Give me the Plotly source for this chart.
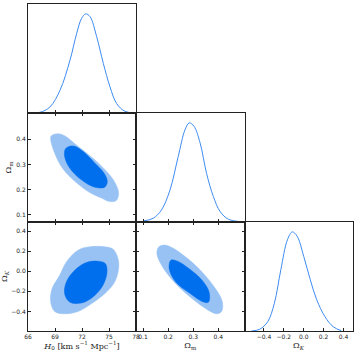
import plotly.graph_objects as go

# 1D marginal curves (peak normalised to 1)
h0_grid = [66.04, 67.33, 68.44, 69.56, 70.67, 71.41, 71.96, 72.41, 72.89, 73.63, 74.37, 75.11, 75.85, 76.78, 77.89]
h0_dens = [0, 0.007, 0.061, 0.230, 0.534, 0.804, 0.956, 1.0, 0.973, 0.770, 0.500, 0.264, 0.095, 0.017, 0]

om_grid = [0.10, 0.14, 0.173, 0.207, 0.24, 0.267, 0.284, 0.303, 0.327, 0.353, 0.38, 0.407, 0.44, 0.487]
om_dens = [0.01, 0.037, 0.12, 0.32, 0.66, 0.93, 1.0, 0.966, 0.80, 0.49, 0.257, 0.105, 0.027, 0.003]

ok_grid = [-0.525, -0.443, -0.361, -0.295, -0.23, -0.164, -0.115, -0.066, 0.0, 0.066, 0.131, 0.213, 0.295, 0.377]
ok_dens = [0, 0.017, 0.095, 0.28, 0.618, 0.92, 1.0, 0.956, 0.753, 0.517, 0.314, 0.145, 0.044, 0.003]

# 2D contours (95% outer, 68% inner)
h0_om_outer_x = [68.59, 69.33, 70.07, 71.56, 73.41, 74.89, 75.70, 76.07, 75.81, 75.07, 74.15, 72.67, 70.81, 69.70, 68.96, 68.52]
h0_om_outer_y = [0.414, 0.422, 0.414, 0.372, 0.319, 0.266, 0.226, 0.187, 0.157, 0.153, 0.167, 0.193, 0.246, 0.292, 0.345, 0.398]
h0_om_inner_x = [70.63, 70.15, 70.07, 70.63, 71.93, 73.41, 74.52, 74.81, 74.44, 73.41, 72.11, 71.19]
h0_om_inner_y = [0.372, 0.361, 0.332, 0.286, 0.239, 0.210, 0.210, 0.233, 0.266, 0.306, 0.352, 0.372]

h0_ok_outer_x = [71.56, 72.85, 74.52, 75.44, 76.0, 76.07, 75.63, 74.52, 73.04, 71.56, 70.07, 68.96, 68.52, 68.67, 69.52, 70.26]
h0_ok_outer_y = [0.210, 0.243, 0.243, 0.220, 0.126, 0.026, -0.107, -0.224, -0.324, -0.400, -0.424, -0.400, -0.307, -0.174, -0.040, 0.093]
h0_ok_inner_x = [73.78, 74.59, 74.78, 74.33, 73.22, 71.93, 70.63, 70.07, 70.26, 71.19, 72.48]
h0_ok_inner_y = [0.100, 0.076, -0.007, -0.140, -0.257, -0.317, -0.307, -0.224, -0.107, 0.010, 0.086]

om_ok_outer_x = [0.163, 0.185, 0.217, 0.269, 0.335, 0.393, 0.416, 0.413, 0.393, 0.361, 0.296, 0.230, 0.178, 0.155]
om_ok_outer_y = [0.243, 0.260, 0.233, 0.143, -0.007, -0.190, -0.307, -0.400, -0.424, -0.390, -0.274, -0.124, 0.043, 0.176]
om_ok_inner_x = [0.211, 0.237, 0.283, 0.335, 0.363, 0.361, 0.341, 0.289, 0.230, 0.204]
om_ok_inner_y = [0.110, 0.100, 0.026, -0.090, -0.207, -0.307, -0.307, -0.224, -0.107, 0.026]

h0_ticks = [66, 69, 72, 75, 78]
om_ticks = [0.1, 0.2, 0.3, 0.4]
ok_ticks = [-0.4, -0.2, 0.0, 0.2, 0.4]

h0_range = [66, 78]
om_range = [0.072, 0.504]
ok_range = [-0.595, 0.49]

LINE_COL = "#3d8bf0"
DARK = "#006fed"
LIGHT = "#99c2f4"

fig = go.Figure()


def closed(xs, ys):
    return list(xs) + [xs[0]], list(ys) + [ys[0]]


def add_contours(ox, oy, ix, iy, xa, ya):
    x, y = closed(ox, oy)
    fig.add_trace(go.Scatter(x=x, y=y, mode="lines", fill="toself", fillcolor=LIGHT,
                             line=dict(color=LIGHT, width=0.5, shape="spline", smoothing=1.0),
                             xaxis=xa, yaxis=ya, hoverinfo="skip"))
    x, y = closed(ix, iy)
    fig.add_trace(go.Scatter(x=x, y=y, mode="lines", fill="toself", fillcolor=DARK,
                             line=dict(color=DARK, width=0.5, shape="spline", smoothing=1.0),
                             xaxis=xa, yaxis=ya, hoverinfo="skip"))


def add_1d(xs, ys, xa, ya):
    fig.add_trace(go.Scatter(x=xs, y=ys, mode="lines",
                             line=dict(color=LINE_COL, width=1, shape="spline", smoothing=1.0),
                             xaxis=xa, yaxis=ya, hoverinfo="skip"))


add_1d(h0_grid, h0_dens, "x", "y")
add_contours(h0_om_outer_x, h0_om_outer_y, h0_om_inner_x, h0_om_inner_y, "x2", "y2")
add_1d(om_grid, om_dens, "x3", "y3")
add_contours(h0_ok_outer_x, h0_ok_outer_y, h0_ok_inner_x, h0_ok_inner_y, "x4", "y4")
add_contours(om_ok_outer_x, om_ok_outer_y, om_ok_inner_x, om_ok_inner_y, "x5", "y5")
add_1d(ok_grid, ok_dens, "x6", "y6")

W = 356.0
cols = [[28 / W, 136 / W], [136 / W, 244.5 / W], [244.5 / W, 352.5 / W]]
rows = [[(W - 113) / W, (W - 4) / W], [(W - 222) / W, (W - 113) / W], [(W - 331) / W, (W - 222) / W]]

tick_font = dict(family="DejaVu Sans", size=6, color="#222")
title_font = dict(family="DejaVu Serif", size=8, color="#222")


def ax(domain, rng, anchor, ticks=None, labels=False, title=None, fmt=None, mirror="ticks", show_ticks=True):
    d = dict(domain=domain, range=rng, anchor=anchor, showgrid=False, zeroline=False,
             showline=True, linecolor="#222", linewidth=1, mirror=True, automargin=False,
             ticks="inside" if show_ticks else "", ticklen=3, tickwidth=0.8, tickcolor="#222",
             showticklabels=labels, tickfont=tick_font)
    if ticks is not None:
        d["tickvals"] = ticks
    if fmt:
        d["tickformat"] = fmt
    if title:
        d["title"] = dict(text=title, font=title_font, standoff=3)
    if show_ticks and mirror == "ticks":
        d["mirror"] = "ticks"
    return d


layout = dict(
    width=356, height=356, margin=dict(l=0, r=0, t=0, b=0, pad=0, autoexpand=False),
    paper_bgcolor="white", plot_bgcolor="white", showlegend=False,
    # panel 1: H0 marginal
    xaxis=ax(cols[0], h0_range, "y", h0_ticks, mirror=False),
    yaxis=ax(rows[0], [0, 1.1], "x", show_ticks=False),
    # panel 2: H0 vs Om
    xaxis2=ax(cols[0], h0_range, "y2", h0_ticks),
    yaxis2=ax(rows[1], om_range, "x2", om_ticks, labels=True, title="Ω<sub>m</sub>", fmt=".1f"),
    # panel 3: Om marginal
    xaxis3=ax(cols[1], om_range, "y3", om_ticks, mirror=False),
    yaxis3=ax(rows[1], [0, 1.1], "x3", show_ticks=False),
    # panel 4: H0 vs OK
    xaxis4=ax(cols[0], h0_range, "y4", h0_ticks, labels=True,
              title="<i>H</i><sub>0</sub> [km s<sup>−1</sup> Mpc<sup>−1</sup>]"),
    yaxis4=ax(rows[2], ok_range, "x4", ok_ticks, labels=True, title="Ω<sub><i>K</i></sub>", fmt=".1f"),
    # panel 5: Om vs OK
    xaxis5=ax(cols[1], om_range, "y5", om_ticks, labels=True, title="Ω<sub>m</sub>", fmt=".1f"),
    yaxis5=ax(rows[2], ok_range, "x5", ok_ticks),
    # panel 6: OK marginal
    xaxis6=ax(cols[2], ok_range, "y6", ok_ticks, labels=True, title="Ω<sub><i>K</i></sub>", fmt=".1f", mirror=False),
    yaxis6=ax(rows[2], [0, 1.1], "x6", show_ticks=False),
)
fig.update_layout(**layout)

# page body has a default 8px margin; drop it so the figure sits at the window's corner
fig.write_html("out.html", config={"displayModeBar": False},
               post_script="document.body.style.margin='0';document.body.style.overflow='hidden';")
